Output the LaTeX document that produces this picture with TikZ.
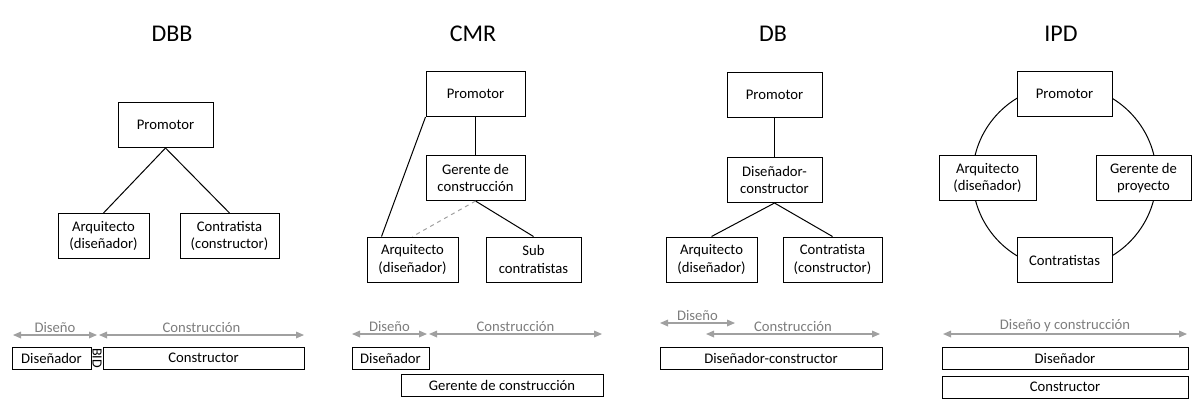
\documentclass[tikz,border=0pt]{standalone}
\usepackage{fontspec}
\setmainfont{Carlito}
\usetikzlibrary{positioning}
\usetikzlibrary{arrows.meta}
\definecolor{gris}{RGB}{160,160,160}
\definecolor{grisTexto}{RGB}{125,125,125}

\begin{document}
\begin{tikzpicture}[
x=0.75pt, y=-0.75pt, line width=0.75pt,
caja/.style={rectangle, draw=black, fill=white, minimum width=71.25pt, minimum height=33.75pt, inner sep=1pt, align=center, font=\fontsize{11}{13}\selectfont},
barra/.style={rectangle, draw=black, fill=white, minimum height=16.5pt, inner sep=1pt, font=\fontsize{11}{13}\selectfont},
titulo/.style={font=\fontsize{18}{22}\selectfont},
fase/.style={gris, line width=0.9pt, {Triangle[length=6pt,width=5pt]}-{Triangle[length=6pt,width=5pt]}},
etiqueta/.style={grisTexto, midway, yshift=6pt, font=\fontsize{11}{13}\selectfont},
]
\useasboundingbox (0,0) rectangle (1194,405);

% DBB
\node[titulo] (dbb) at (172,34) {DBB};
\node[caja] (dbb-prom) at (165.5,125) {Promotor};
\node[caja, minimum width=68.25pt] (dbb-arq) at (103.5,236) {Arquitecto\\(diseñador)};
\node[caja, minimum width=74.25pt] (dbb-cont) at (229.5,236) {Contratista\\(constructor)};

\draw (dbb-prom.south) -- (dbb-arq.north);
\draw (dbb-prom.south) -- (dbb-cont.north);

% CMR
\node[titulo] (cmr) at (473,34) {CMR};
\node[caja, minimum width=74.25pt] (cmr-prom) at (475.5,94) {Promotor};
\node[caja, minimum width=74.25pt] (cmr-ger) [below=28.5pt of cmr-prom] {Gerente de\\construcción};
\node[caja, minimum width=68.25pt] (cmr-arq) at (412.5,259.5) {Arquitecto\\(diseñador)};
\node[caja] (cmr-sub) at (533.5,259.5) {Sub\\contratistas};

\draw (cmr-prom.south) -- (cmr-ger.north);
\draw (cmr-prom.south west) -- ([xshift=11.25pt]cmr-arq.north west);
\draw (cmr-ger.south) -- (cmr-sub.north);
\draw[gris, dashed] (cmr-ger.south) -- (cmr-arq.north);

% DB
\node[titulo] (db) at (773,34) {DB};
\node[caja] (db-prom) at (774.5,95) {Promotor};
\node[caja] (db-dc) [below=29.25pt of db-prom] {Diseñador-\\constructor};
\node[caja, minimum width=68.25pt] (db-arq) at (711.5,259.5) {Arquitecto\\(diseñador)};
\node[caja, minimum width=74.25pt] (db-cont) at (832.5,259.5) {Contratista\\(constructor)};

\draw (db-prom.south) -- (db-dc.north);
\draw (db-dc.south) -- (db-arq.north);
\draw (db-dc.south) -- (db-cont.north);

% IPD
\node[titulo] (ipd) at (1061,34) {IPD};
\coordinate (ipd-centro) at (1064.5,177);
\draw (ipd-centro) circle[radius=69pt];
\node[caja] (ipd-prom) at (1064.5,94) {Promotor};
\node[caja, minimum width=72.75pt] (ipd-arq) at (987.5,178) {Arquitecto\\(diseñador)};
\node[caja] (ipd-ger) at (1143.5,178) {Gerente de\\proyecto};
\node[caja] (ipd-cont) at (1064.5,260) {Contratistas};

% fases DBB
\coordinate (dbb-d1) at (13,335);
\coordinate (dbb-d2) at (97,335);
\coordinate (dbb-c1) at (99,335);
\coordinate (dbb-c2) at (304,335);
\draw[fase] (dbb-d1) -- (dbb-d2) node[etiqueta] {Diseño};
\draw[fase] (dbb-c1) -- (dbb-c2) node[etiqueta] {Construcción};
\node[barra, minimum width=59.25pt] (dbb-dis) at (51.5,358) {Diseñador};
\node[rotate=-90, inner sep=0pt, font=\fontsize{10.5}{12}\selectfont] (dbb-bid) at (97,358) {BID};
\node[barra, minimum width=150.75pt] (dbb-con) at (203.5,358) {Constructor};

% fases CMR
\coordinate (cmr-d1) at (352,334);
\coordinate (cmr-d2) at (427,334);
\coordinate (cmr-c1) at (429,334);
\coordinate (cmr-c2) at (602,334);
\draw[fase] (cmr-d1) -- (cmr-d2) node[etiqueta] {Diseño};
\draw[fase] (cmr-c1) -- (cmr-c2) node[etiqueta] {Construcción};
\node[barra, minimum width=57.75pt] (cmr-dis) at (390.5,358) {Diseñador};
\node[barra, minimum width=151.5pt] (cmr-gc) at (502,385) {Gerente de construcción};

% fases DB
\coordinate (db-d1) at (660,323);
\coordinate (db-d2) at (735,323);
\coordinate (db-c1) at (706,334);
\coordinate (db-c2) at (880,334);
\draw[fase] (db-d1) -- (db-d2) node[etiqueta] {Diseño};
\draw[fase] (db-c1) -- (db-c2) node[etiqueta] {Construcción};
\node[barra, minimum width=166.5pt] (db-bar) at (771,358) {Diseñador-constructor};

% fases IPD
\coordinate (ipd-f1) at (943,334);
\coordinate (ipd-f2) at (1187,334);
\draw[fase] (ipd-f1) -- (ipd-f2) node[etiqueta] {Diseño y construcción};
\node[barra, minimum width=184.5pt] (ipd-dis) at (1065,358) {Diseñador};
\node[barra, minimum width=184.5pt] (ipd-con) at (1065,387) {Constructor};
\end{tikzpicture}
\end{document}
